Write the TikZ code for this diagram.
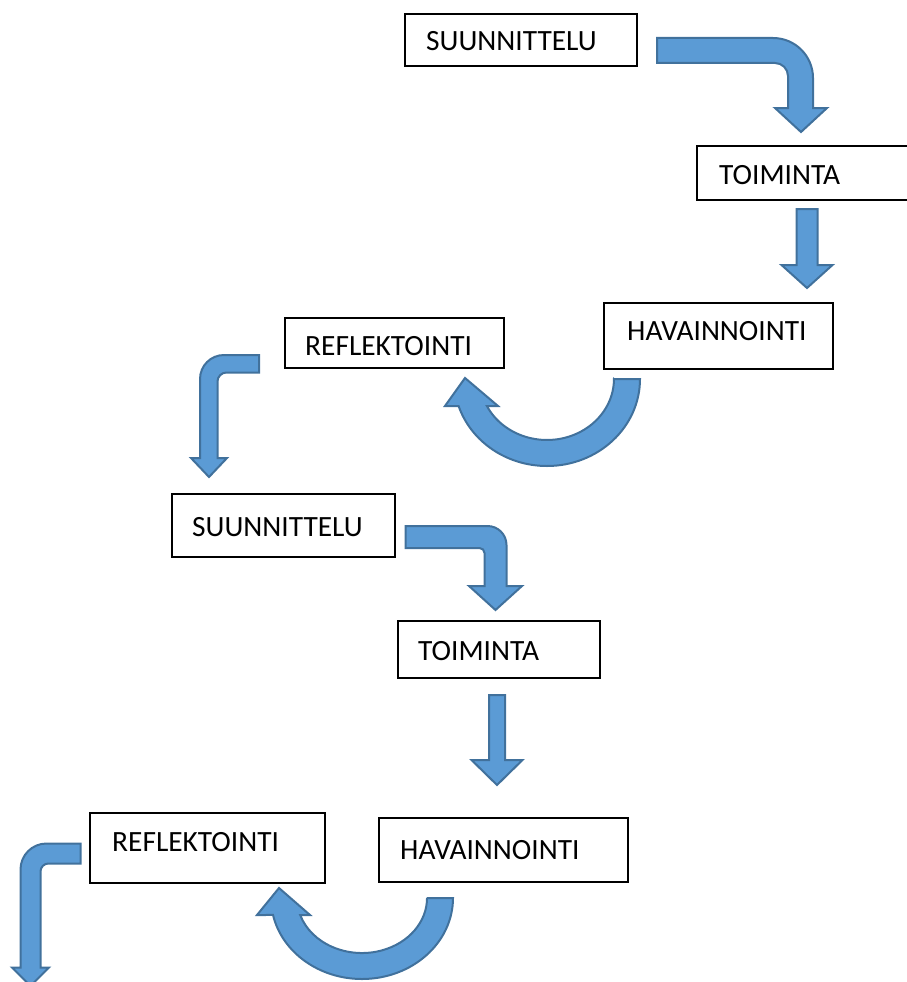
\documentclass[tikz,border=0pt]{standalone}
\usepackage{fontspec}
\setmainfont{Carlito}
\definecolor{arrowfill}{HTML}{5B9BD5}
\definecolor{arrowline}{HTML}{41719C}
\begin{document}
\begin{tikzpicture}[x=1pt,y=-1pt,
  box/.style={draw=black, line width=1.2pt, rectangle, anchor=north west, inner sep=0pt, outer sep=0pt},
  lbl/.style={anchor=base west, inner sep=0pt, font=\fontsize{29.4}{35}\selectfont},
  blockarrow/.style={fill=arrowfill, draw=arrowline, line width=2pt, line join=miter}]
\useasboundingbox (0,0) rectangle (906,982);

% boxes
\node[box, minimum width=232pt, minimum height=52pt] (s1) at (405,14) {};
\node[box, minimum width=240pt, minimum height=54pt] (t1) at (697,146) {};
\node[box, minimum width=229pt, minimum height=66pt] (h1) at (604,303) {};
\node[box, minimum width=219pt, minimum height=50pt] (r1) at (285,318) {};
\node[box, minimum width=223pt, minimum height=63pt] (s2) at (172,494) {};
\node[box, minimum width=202pt, minimum height=57pt] (t2) at (398,621) {};
\node[box, minimum width=235pt, minimum height=70pt] (r2) at (90,813) {};
\node[box, minimum width=249pt, minimum height=64pt] (h2) at (379,818) {};

% labels
\node[lbl] (s1t) at (426,50.7) {SUUNNITTELU};
\node[lbl] (t1t) at (719,184.3) {TOIMINTA};
\node[lbl] (h1t) at (627,340) {HAVAINNOINTI};
\node[lbl] (r1t) at (305,355) {REFLEKTOINTI};
\node[lbl] (s2t) at (192,536) {SUUNNITTELU};
\node[lbl] (t2t) at (418,660) {TOIMINTA};
\node[lbl] (r2t) at (112,851.7) {REFLEKTOINTI};
\node[lbl] (h2t) at (400,859) {HAVAINNOINTI};

% bent arrow: SUUNNITTELU -> TOIMINTA (top)
\draw[blockarrow] (657,38) -- (773,38) arc[start angle=-90,end angle=0,radius=40]
  -- (813,108) -- (827,108) -- (801,132) -- (775,108) -- (788,108) -- (788,76)
  arc[start angle=0,end angle=-90,radius=13] -- (657,63) -- cycle;

% straight arrow: TOIMINTA -> HAVAINNOINTI (top)
\draw[blockarrow] (796.5,209) -- (817.5,209) -- (817.5,265) -- (832.5,265) -- (807,288)
  -- (781.5,265) -- (796.5,265) -- cycle;

% U-turn arrow: HAVAINNOINTI -> REFLEKTOINTI (top)
\draw[blockarrow] (614,379) -- (640,379) arc[start angle=0,end angle=161.9,x radius=93,y radius=87]
  -- (445,406) -- (465,378) -- (498,406) -- (486.9,406)
  arc[start angle=153.7,end angle=0,x radius=67,y radius=61] -- cycle;

% bent arrow: REFLEKTOINTI -> SUUNNITTELU
\draw[blockarrow] (259,355) -- (224,355) arc[start angle=-90,end angle=-180,radius=24]
  -- (200,458) -- (191,458) -- (209,477) -- (227,458) -- (217.5,458) -- (217.5,381.5)
  arc[start angle=180,end angle=270,radius=9] -- (259,372.5) -- cycle;

% bent arrow: SUUNNITTELU -> TOIMINTA (middle)
\draw[blockarrow] (405.5,526) -- (487.5,526) arc[start angle=-90,end angle=0,radius=19]
  -- (506.5,586) -- (522,586) -- (495.5,610) -- (469,586) -- (484.5,586) -- (484.5,553)
  arc[start angle=0,end angle=-90,radius=5] -- (405.5,548) -- cycle;

% straight arrow: TOIMINTA -> HAVAINNOINTI (middle)
\draw[blockarrow] (489,695) -- (505,695) -- (505,760) -- (522.5,760) -- (497,785)
  -- (471.5,760) -- (489,760) -- cycle;

% U-turn arrow: HAVAINNOINTI -> REFLEKTOINTI (bottom)
\draw[blockarrow] (427,898) -- (453,898) arc[start angle=0,end angle=167.9,x radius=91,y radius=81]
  -- (257,915) -- (279,888) -- (310,915) -- (300.2,915)
  arc[start angle=162,end angle=0,x radius=65,y radius=55] -- cycle;

% bent arrow at bottom left
\draw[blockarrow] (80.5,843.5) -- (46.5,843.5) arc[start angle=-90,end angle=-180,radius=26]
  -- (20.5,967.5) -- (12,967.5) -- (30.5,986) -- (49,967.5) -- (40.5,967.5) -- (40.5,871.5)
  arc[start angle=180,end angle=270,radius=8] -- (80.5,863.5) -- cycle;
\end{tikzpicture}
\end{document}
